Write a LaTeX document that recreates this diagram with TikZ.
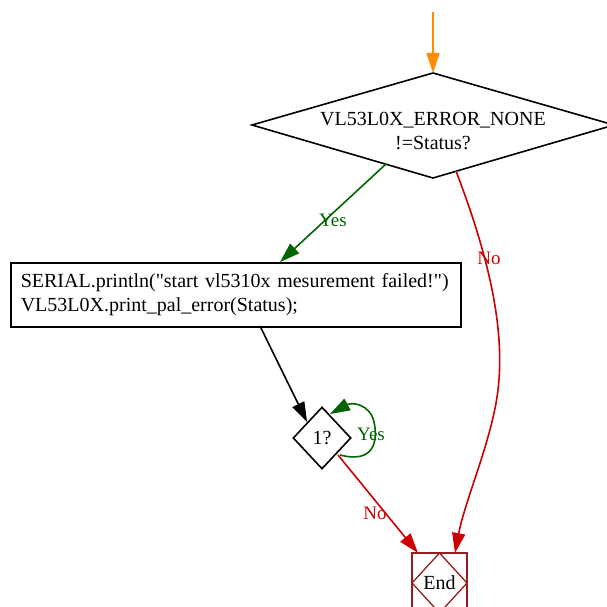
\documentclass[tikz,border=0pt]{standalone}
\usepackage{fontspec}
\setmainfont{Liberation Serif}[Ligatures=TeXOff]
\usetikzlibrary{arrows.meta,shapes.geometric}
\definecolor{gvorange}{RGB}{255,140,0}
\definecolor{gvgreen}{RGB}{0,100,0}
\definecolor{gvred}{RGB}{204,0,0}
\definecolor{gvbrown}{RGB}{150,30,30}
\tikzset{
  tip/.style={-{Triangle[length=20pt,width=13pt]}},
  lbl/.style={font=\fontsize{19}{22}\selectfont, inner sep=1pt},
  txt/.style={font=\fontsize{20}{24}\selectfont},
}
\begin{document}
\begin{tikzpicture}[x=1pt,y=-1pt,line width=1.6pt]
\useasboundingbox (0,0) rectangle (606,607);
% decision 1
\draw (433,73) -- (614,125) -- (433,178) -- (252,125) -- cycle;
\node[txt, align=center] (d1) at (433,131) {VL53L0X\_ERROR\_NONE\\!=Status?};
\coordinate (d1top) at (433,73);
\coordinate (start) at (433,12);
\coordinate (d1yes) at (386,164);
\coordinate (d1no) at (456,171);
% box
\node[draw, txt, align=left, minimum width=450pt, minimum height=64pt, text width=430pt, inner sep=0pt, anchor=north west] (box) at (10,262) {SERIAL.println("start vl5310x mesurement failed!")\\VL53L0X.print\_pal\_error(Status);};
% decision 2
\node[draw, diamond, minimum width=58pt, minimum height=62pt, inner sep=0pt, txt] (d2) at (322,438) {1?};
% end
\draw[gvbrown, line width=1.3pt] (412,553) rectangle (467,620);
\draw[gvbrown, line width=1.3pt] (439.5,553) -- (467,583) -- (439.5,613) -- (412,583) -- cycle;
\node[txt] (end) at (439.5,583) {End};
\coordinate (endL) at (418,553);
\coordinate (endR) at (455,553);
% edges
\draw[gvorange, tip] (start) -- (d1top);
\draw[gvgreen, tip] (d1yes) -- (280,262);
\node[lbl, text=gvgreen] at (333,220) {Yes};
\draw[gvred, tip] (d1no) .. controls (490,260) and (505,330) .. (498,390) .. controls (492,440) and (465,500) .. (endR);
\node[lbl, text=gvred] at (489,258) {No};
\draw[tip] (260,326) -- (d2.north west);
\draw[gvgreen, tip] (340,455) .. controls (375,464) and (378,440) .. (374,422) .. controls (370,404) and (352,402) .. (330,414);
\node[lbl, text=gvred] at (375,513) {No};
\node[lbl, text=gvgreen] at (371,434) {Yes};
\draw[gvred, tip] (338,455) -- (endL);
\end{tikzpicture}
\end{document}
